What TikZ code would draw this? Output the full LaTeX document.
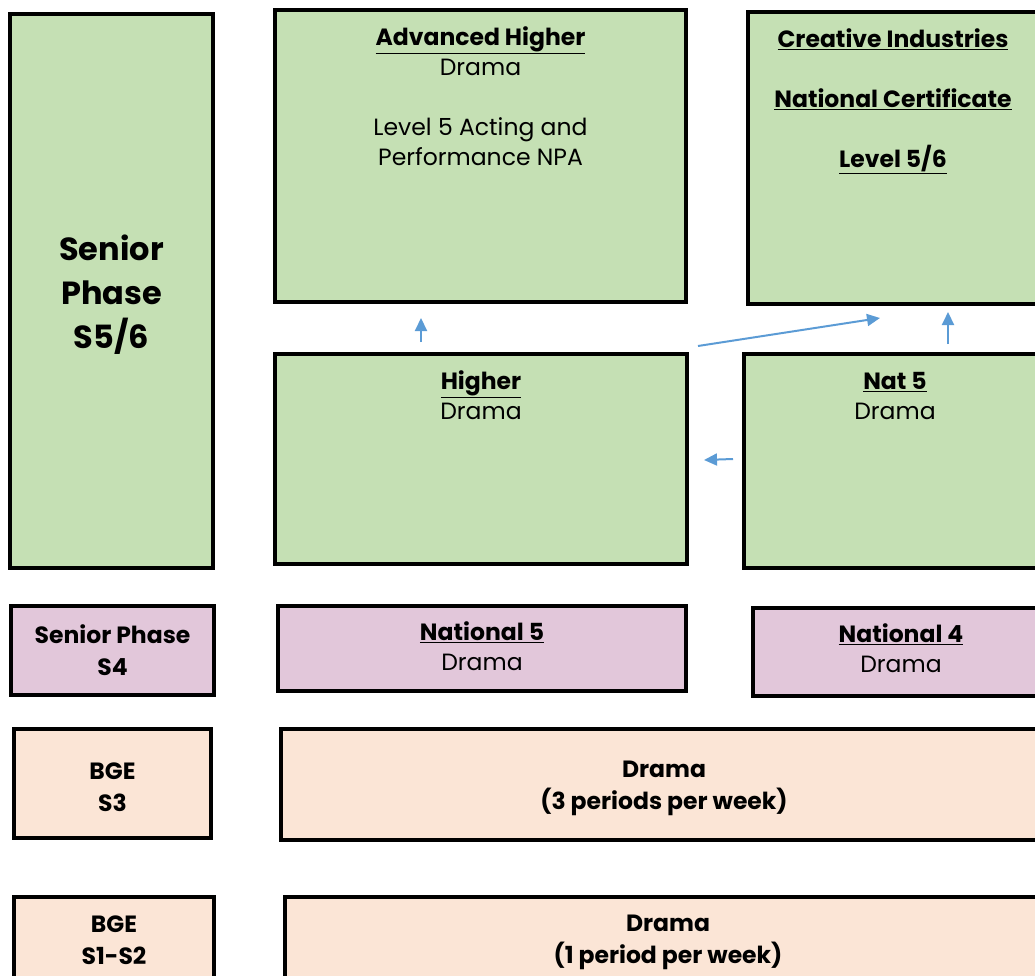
\documentclass[tikz,border=0pt]{standalone}
\usepackage{fontspec}
\setmainfont{Poppins}
\usetikzlibrary{arrows.meta,positioning}
\definecolor{phgreen}{HTML}{C5E0B4}
\definecolor{phlilac}{HTML}{E2C7DA}
\definecolor{phpeach}{HTML}{FBE5D6}
\definecolor{arrblue}{HTML}{5B9BD5}
\newcommand{\ul}[1]{\underline{#1}}
\begin{document}
\begin{tikzpicture}[x=1pt,y=-1pt,
  box/.style={draw=black,line width=3.5pt,rectangle,inner sep=0pt,align=center,
    font=\fontsize{23.5}{30}\selectfont},
  green/.style={box,fill=phgreen},
  lilac/.style={box,fill=phlilac},
  peach/.style={box,fill=phpeach},
  txt/.style={inner sep=0pt,align=center,font=\fontsize{23.5}{30}\selectfont},
  lbl/.style={font=\fontsize{23.5}{32}\selectfont\bfseries},
  prog/.style={draw=arrblue,line width=2pt,-{Triangle[length=13pt,width=12pt]}}]
   \clip (0,0) rectangle (1035,976);
   % senior phase S5/6
   \node [green,minimum width=203,minimum height=554] (sp56) at (111.5,291) {};
   \node [txt,font=\fontsize{32}{44}\selectfont\bfseries] (sp56txt) at (111.5,295) {Senior\\Phase\\S5/6};
   \node [green,minimum width=411,minimum height=292] (adv) at (480.5,156) {};
   \node [green,minimum width=290,minimum height=292] (ci) at (893,158) {};
   \node [green,minimum width=412,minimum height=210] (higher) at (481,459) {};
   \node [green,minimum width=302,minimum height=214] (nat5) at (895,461) {};
   \node [txt] (advtxt) [below=18pt of adv.north]
     {\textbf{\ul{Advanced Higher}}\\Drama\\[30pt]Level 5 Acting and\\Performance NPA};
   \node [txt] (citxt) [below=18pt of ci.north]
     {\textbf{\ul{Creative Industries}}\\[30pt]\textbf{\ul{National Certificate}}\\[30pt]\textbf{\ul{Level 5/6}}};
   \node [txt] (hightxt) [below=18pt of higher.north] {\textbf{\ul{Higher}}\\Drama};
   \node [txt] (n5txt) [below=20pt of nat5.north] {\textbf{\ul{Nat 5}}\\Drama};
   % senior phase S4
   \node [lilac,lbl,minimum width=203,minimum height=89] (sp4) at (112.5,650.5) {Senior Phase\\S4};
   \node [lilac,minimum width=408,minimum height=85] (nfive) at (482,648.5) {};
   \node [lilac,minimum width=296,minimum height=88] (nfour) at (901,652) {};
   \node [txt] (n5dtxt) [below=17pt of nfive.north] {\textbf{\ul{National 5}}\\Drama};
   \node [txt] (n4dtxt) [below=17pt of nfour.north] {\textbf{\ul{National 4}}\\Drama};
   % BGE
   \node [peach,minimum width=197,minimum height=109] (bge3) at (112.5,783.5) {};
   \node [peach,minimum width=766,minimum height=111] (dr3) at (664,784.5) {};
   \node [peach,minimum width=200,minimum height=86] (bge12) at (114,940) {};
   \node [peach,minimum width=766,minimum height=86] (dr12) at (668,940) {};
   \node [txt,lbl] (bge3txt) [below=35pt of bge3.north] {BGE\\S3};
   \node [txt,lbl] (dr3txt) [below=34pt of dr3.north] {Drama\\(3 periods per week)};
   \node [txt,lbl] (bge12txt) [below=20pt of bge12.north] {BGE\\S1-S2};
   \node [txt,lbl] (dr12txt) [below=20pt of dr12.north] {Drama\\(1 period per week)};
   % progression arrows
   \coordinate (h-up) at (421,342);
   \coordinate (adv-in) at (421,318);
   \coordinate (h-ci) at (698,346);
   \coordinate (ci-in) at (880,318);
   \coordinate (n5-up) at (948,344);
   \coordinate (ci-in2) at (948,312);
   \coordinate (n5-left) at (733,459);
   \coordinate (h-in) at (704,460);
   \draw [prog] (h-up) -- (adv-in);
   \draw [prog] (h-ci) -- (ci-in);
   \draw [prog] (n5-up) -- (ci-in2);
   \draw [prog] (n5-left) -- (h-in);
\end{tikzpicture}
\end{document}
